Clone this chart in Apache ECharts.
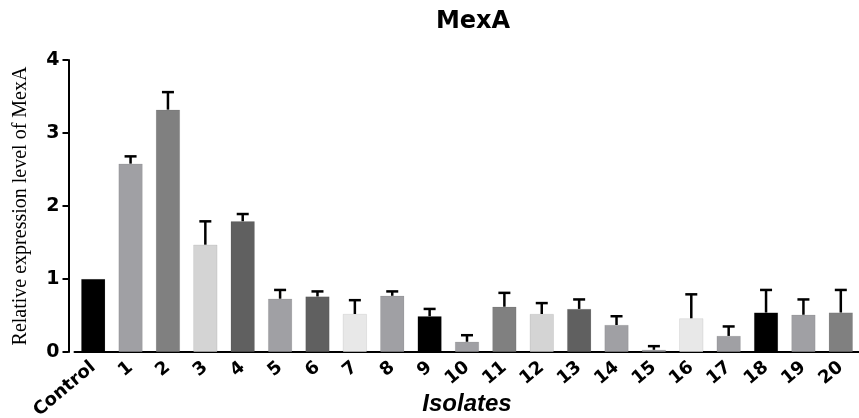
<!DOCTYPE html>
<html>
<head>
<meta charset="utf-8">
<script src="https://cdn.jsdelivr.net/npm/echarts@6/dist/echarts.min.js"></script>
<style>html,body{margin:0;padding:0;background:#fff;}#c{width:859px;height:418px;}</style>
</head>
<body>
<div id="c"></div>
<script>
const categories = ['Control','1','2','3','4','5','6','7','8','9','10','11','12','13','14','15','16','17','18','19','20'];
const means = [1.0, 2.58, 3.32, 1.47, 1.79, 0.73, 0.76, 0.52, 0.77, 0.49, 0.14, 0.62, 0.52, 0.59, 0.37, 0.03, 0.46, 0.22, 0.54, 0.51, 0.54];
const errors = [0, 0.10, 0.24, 0.32, 0.10, 0.12, 0.07, 0.19, 0.06, 0.10, 0.09, 0.19, 0.15, 0.13, 0.12, 0.05, 0.33, 0.13, 0.31, 0.21, 0.31];
const barColors = ['#000000','#a0a0a4','#808080','#d4d4d4','#606060','#a0a0a4','#606060','#e8e8e8','#a0a0a4','#000000','#a0a0a4','#808080','#d4d4d4','#606060','#a0a0a4','#a0a0a4','#e8e8e8','#a0a0a4','#000000','#a0a0a4','#808080'];
const yTicks = [0, 1, 2, 3, 4];

const chart = echarts.init(document.getElementById('c'));
chart.setOption({
  animation: false,
  title: {
    text: 'MexA', left: 468, top: 5, textAlign: 'center',
    textStyle: {fontFamily: 'DejaVu Sans', fontWeight: 'bold', fontSize: 24, color: '#000'}
  },
  grid: {left: 74.5, width: 785, top: 60, bottom: 66, outerBoundsMode: 'none', containLabel: false},
  xAxis: {
    type: 'category', data: categories,
    axisLine: {lineStyle: {color: '#000', width: 2}},
    axisTick: {alignWithLabel: true, length: 6, lineStyle: {color: '#000', width: 2}},
    axisLabel: {rotate: 40, fontFamily: 'DejaVu Sans', fontWeight: 'bold', fontSize: 18, color: '#000', margin: 13, interval: 0},
    name: 'Isolates', nameLocation: 'middle', nameGap: 40, nameMoveOverlap: false,
    nameTextStyle: {fontFamily: 'Liberation Sans', fontWeight: 'bold', fontStyle: 'italic', fontSize: 24, color: '#000'}
  },
  yAxis: {
    type: 'value', min: yTicks[0], max: yTicks[yTicks.length-1], interval: 1, offset: 6,
    axisLine: {show: true, lineStyle: {color: '#000', width: 2}},
    axisTick: {show: true, length: 6, lineStyle: {color: '#000', width: 2}},
    splitLine: {show: false},
    axisLabel: {fontFamily: 'DejaVu Sans', fontWeight: 'bold', fontSize: 19, color: '#000', margin: 9,
      formatter: v => yTicks.includes(v) ? String(v) : ''},
    name: 'Relative expression level of MexA', nameLocation: 'middle', nameGap: 38, nameMoveOverlap: false,
    nameTextStyle: {fontFamily: 'Liberation Serif', fontSize: 20, color: '#000'}
  },
  series: [
    {
      type: 'bar', barWidth: 24,
      data: means.map((v, i) => ({value: v, itemStyle: {color: barColors[i]}})),
      itemStyle: {borderColor: 'rgba(0,0,0,0.15)', borderWidth: 0.5}
    },
    {
      type: 'custom', z: 1,
      data: means.map((v, i) => [i, v, errors[i]]),
      renderItem: function (params, api) {
        const i = api.value(0), m = api.value(1), e = api.value(2);
        if (!e) return null;
        const base = api.coord([i, m]);
        const top = api.coord([i, m + e]);
        const hw = 6;
        return {
          type: 'group',
          children: [
            {type: 'line', shape: {x1: base[0], y1: base[1], x2: top[0], y2: top[1]}, style: {stroke: '#000', lineWidth: 2.5}},
            {type: 'line', shape: {x1: top[0]-hw, y1: top[1], x2: top[0]+hw, y2: top[1]}, style: {stroke: '#000', lineWidth: 2.5}}
          ]
        };
      }
    }
  ]
});
</script>
</body>
</html>
